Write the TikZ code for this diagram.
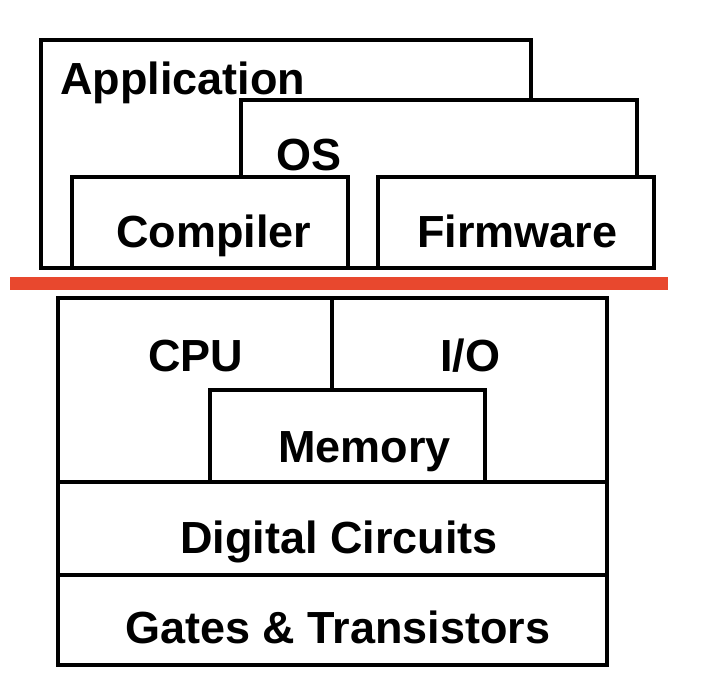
\documentclass[tikz,border=0pt]{standalone}
\usepackage{fontspec}
\setmainfont{Liberation Sans}
\definecolor{sepred}{RGB}{232,72,46}
\begin{document}
\begin{tikzpicture}[x=1pt,y=-1pt,
  box/.style={draw=black,fill=white,line width=4pt},
  lbl/.style={anchor=base west,inner sep=0pt,font=\fontsize{45}{54}\bfseries\selectfont}]
\useasboundingbox (0,0) rectangle (713,696);
% upper (software) stack
\draw[box] (41,40) rectangle (531,268);
\draw[box] (241,100) rectangle (637,268);
\draw[box] (72,177) rectangle (348,268);
\draw[box] (378,177) rectangle (654,268);
\node[lbl] (app) at (60,94) {Application};
\node[lbl] (os) at (276,170) {OS};
\node[lbl] (comp) at (116,247) {Compiler};
\node[lbl] (firm) at (417,247) {Firmware};
% separator
\fill[sepred] (10,277) rectangle (668,290);
% lower (hardware) stack
\draw[box] (58,298) rectangle (607,665);
\draw[line width=4pt] (58,482) -- (607,482);
\draw[line width=4pt] (58,575) -- (607,575);
\draw[line width=4pt] (332,298) -- (332,390);
\draw[box] (210,390) rectangle (485,482);
\node[lbl] (cpu) at (148,371) {CPU};
\node[lbl] (io) at (440,371) {I/O};
\node[lbl] (mem) at (278,462) {Memory};
\node[lbl] (dig) at (180,553) {Digital Circuits};
\node[lbl] (gates) at (125,643) {Gates \& Transistors};
\end{tikzpicture}
\end{document}
